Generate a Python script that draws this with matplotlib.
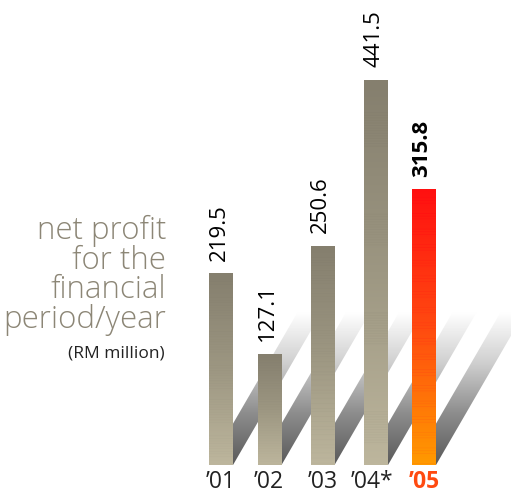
import numpy as np
import matplotlib
matplotlib.use('Agg')
import matplotlib.pyplot as plt
from matplotlib.patches import Polygon
from matplotlib.colors import LinearSegmentedColormap

# 数据
years = ['\u201901', '\u201902', '\u201903', '\u201904*', '\u201905']
profit = [219.5, 127.1, 250.6, 441.5, 315.8]

# 布局 (像素)
W, H = 511, 497
base_px = 465          # 柱子底部
px_per_unit = 0.872    # 每单位对应像素
bar_x = [221, 269.5, 322.5, 376, 424]
label_dx = [0, -1, 0, -4, 0]
bar_w = 24
shadow_h = 153 / px_per_unit   # 阴影高度 (数据单位)
shadow_dx = 0.58 * 153         # 阴影水平偏移 (像素)

plt.rcParams['font.family'] = ['Open Sans', 'DejaVu Sans']

fig = plt.figure(figsize=(W / 100, H / 100), dpi=100)
ax = fig.add_axes([0, 0, 1, 1])
ax.set_xlim(0, W)
ax.set_ylim(-(H - base_px) / px_per_unit, base_px / px_per_unit)
ax.axis('off')

grey_cmap = LinearSegmentedColormap.from_list('g', ['#ffffff', '#cfcfcf', '#8c8c8c', '#5a5a5a'])
tan_cmap = LinearSegmentedColormap.from_list('t', ['#857f6e', '#9d9782', '#bdb69d'])
red_cmap = LinearSegmentedColormap.from_list('r', ['#ff1010', '#ff4a10', '#ff9a00'])

# 阴影
for x in bar_x:
    x0 = x - bar_w / 2
    pts = [(x0, 0), (x0 + bar_w, 0), (x0 + bar_w + shadow_dx, shadow_h), (x0 + shadow_dx, shadow_h)]
    poly = Polygon(pts, closed=True, facecolor='none', edgecolor='none')
    ax.add_patch(poly)
    grad = np.linspace(0, 1, 200).reshape(-1, 1)  # 上 -> 下
    im = ax.imshow(grad, cmap=grey_cmap, aspect='auto', zorder=1,
                   extent=[x0, x0 + bar_w + shadow_dx, 0, shadow_h], origin='upper')
    im.set_clip_path(poly)

# 柱子 (带横条纹理)
for i, (x, v) in enumerate(zip(bar_x, profit)):
    x0 = x - bar_w / 2
    n = 300
    t = np.linspace(0, 1, n)
    stripes = 0.06 * (np.sin(t * v * 2.1) > 0.85)
    grad = np.clip(t - stripes, 0, 1).reshape(-1, 1)
    last = i == len(profit) - 1
    cmap = red_cmap if last else tan_cmap
    ax.imshow(grad, cmap=cmap, aspect='auto', zorder=3, vmin=0, vmax=1,
              extent=[x0, x0 + bar_w, 0, v], origin='upper')
    ax.text(x - 2, v + 13 / px_per_unit, f'{v:.1f}', rotation=90, ha='center', va='bottom',
            fontsize=16, color='black', fontweight='bold' if last else 'normal', zorder=4)
    ax.text(x + label_dx[i], -17 / px_per_unit, years[i], ha='center', va='center',
            fontsize=16.5, color='#ff4a10' if last else '#222222',
            fontweight='bold' if last else 'normal', zorder=4)

# 左侧标题
title = 'net profit\nfor the\nfinancial\nperiod/year'
ax.text(166, (base_px - 328) / px_per_unit, title, ha='right', va='baseline',
        multialignment='right', linespacing=0.9, fontsize=22.5, color='#8c8676',
        fontweight='light')
ax.text(165, (base_px - 357) / px_per_unit, '(RM million)', ha='right', va='baseline',
        fontsize=12.5, color='#222222')

fig.savefig('out.png', dpi=100)
